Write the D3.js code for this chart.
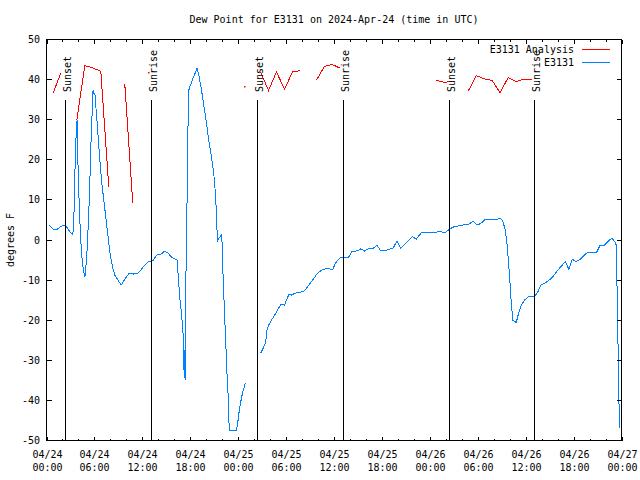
<!DOCTYPE html>
<html><head><meta charset="utf-8">
<script src="https://cdn.jsdelivr.net/npm/d3@7"></script>
<style>body{margin:0;background:#fff}</style>
</head><body>
<svg id="c" width="640" height="480"></svg>
<script>
const title = "Dew Point for E3131 on 2024-Apr-24 (time in UTC)";
const yLabel = "degrees F";
const yTicks = [-50,-40,-30,-20,-10,0,10,20,30,40,50];
const xMajorHours = [0,6,12,18,24,30,36,42,48,54,60,66,72];
const xTickDates = ["04/24","04/24","04/24","04/24","04/25","04/25","04/25","04/25","04/26","04/26","04/26","04/26","04/27"];
const xTickTimes = ["00:00","06:00","12:00","18:00","00:00","06:00","12:00","18:00","00:00","06:00","12:00","18:00","00:00"];
const xMinorHours = [2,4,8,10,14,16,20,22,26,28,32,34,38,40,44,46,50,52,56,58,62,64,68,70];
const sunHours = [2.33,13.05,26.35,37.13,50.38,61.03];
const sunNames = ["Sunset","Sunrise","Sunset","Sunrise","Sunset","Sunrise"];
const legendNames = ["E3131 Analysis","E3131"];

const blueHours = [0.29,0.83,1.38,1.66,2.2,2.5,2.92,3.29,3.42,3.58,3.7,3.83,3.95,4.13,4.29,4.46,4.63,4.79,4.88,5.08,5.26,5.42,5.58,5.76,5.83,5.96,6.05,6.21,6.38,6.58,6.88,7.17,7.42,7.71,7.96,8.26,8.55,8.96,9.34,9.8,10.34,10.84,11.39,11.89,12.3,12.8,13.34,13.77,14.31,14.81,15.22,15.64,16.06,16.35,16.47,16.68,16.9,17.1,17.18,17.27,17.35,17.43,17.47,17.6,17.72,17.85,18.06,18.35,18.65,18.85,19.1,19.4,19.72,20.03,20.31,20.65,20.94,21.15,21.28,21.4,21.56,21.73,21.9,22.03,22.1,22.23,22.4,22.6,22.73,22.82,22.94,23.78,23.98,24.19,24.53,24.9,25.8,26.82,27.2,27.45,27.61,27.82,28.16,28.57,28.99,29.32,29.82,30.04,30.36,30.66,31.08,31.49,32.12,32.54,33.17,33.58,33.92,34.49,35.04,35.58,35.87,36.17,36.58,36.92,37.83,38.25,38.92,39.34,39.84,40.34,40.88,41.38,41.84,42.43,42.97,43.38,43.88,44.34,44.84,45.26,45.81,46.31,46.93,48.6,49.22,49.85,50.35,50.89,51.51,52.14,52.77,53.39,53.89,54.36,54.86,56.02,56.52,56.86,57.15,57.45,57.7,57.9,58.07,58.2,58.4,58.82,59.11,59.45,59.86,60.28,61.11,61.53,61.95,62.36,62.78,63.4,64.03,64.58,64.96,65.41,65.83,66.33,66.96,67.58,68.21,68.91,69.34,69.87,70.5,70.84,71.14,71.35,71.42,71.55,71.67,71.75];
const blueValues = [3.75,2.7,2.7,3.2,3.7,3.3,2.1,1.25,5,18.3,25.8,30,18.3,6.7,0,-5,-7.5,-9.3,-8.3,-2.5,5,14,25,34,37.5,36.25,36.7,32.5,28.3,22.5,15,10,5.8,0.8,-3.3,-6.7,-8.75,-10,-11.25,-9.8,-8.3,-8.5,-8.3,-7.3,-6.25,-5.4,-5.2,-3.75,-3.6,-2.75,-3.3,-4.2,-4.75,-5,-8.3,-14.2,-18.3,-23.3,-32.5,-27.5,-35,-25.8,-7.5,10,28.3,37.9,38.75,40.4,41.8,42.9,40.8,37.5,33.3,29.2,25,20.8,16.7,11.7,6.7,-0.4,0.4,0.8,1.25,-1.7,-8.3,-15,-23.3,-33.3,-38.3,-45,-47.5,-47.5,-45,-41.7,-38.3,-35.6,null,-28.2,-26.7,-25.4,-22.5,-21.25,-20,-18.75,-17.3,-16.1,-16.25,-15,-13.6,-13.75,-13.3,-13.1,-12.9,-12.1,-10.4,-9.3,-8.3,-7.5,-7.1,-7.25,-7.25,-5.8,-4.8,-4.3,-4.3,-2.9,-2.7,-2.2,-2.75,-2.1,-2.1,-1.3,-2.7,-2.7,-2.25,-2.1,-0.25,-2.1,-1.1,-0.25,0.8,0.25,1.8,1.8,2.2,1.8,2.5,3.2,3.5,3.75,3.75,4.7,3.75,4.1,5,5,5.2,5.4,4.6,2.5,-1.7,-6.7,-11.7,-15.8,-20,-20.6,-18.3,-16.25,-15,-14.2,-14.2,-12.9,-11.1,-10.8,-10.25,-9.2,-7.5,-6.25,-5.4,-7.3,-4.8,-5.4,-4.6,-3.3,-3,-3,-1.25,-1.25,0,0.4,-0.4,-1.25,-9.2,-24.2,-39.2,-47];

const redHours = [0.8,1.8,2.8,3.8,4.8,5.8,6.8,7.8,8.8,9.8,10.8,11.8,12.8,13.8,23.8,24.8,25.8,26.8,27.8,28.8,29.8,30.8,31.8,32.8,33.8,34.8,35.8,36.8,37.8,47.8,48.8,49.8,50.8,51.8,52.8,53.8,54.8,55.8,56.8,57.8,58.8,59.8,60.8];
const redValues = [36.5,41.7,null,30,43.5,42.9,42.1,13.2,null,39,9.2,null,41.7,null,null,38.2,null,41.9,37.3,41.9,37.6,41.9,42.25,null,39.8,43.3,43.75,42.8,null,null,39.8,39.3,39.6,null,37.1,41,40.2,39.8,36.7,40.5,39.5,40.1,40.1];

const svg = d3.select("#c");
const font = "'DejaVu Sans Mono', monospace";
const x = d3.scaleLinear().domain([0,72]).range([46.5,621.5]);
const y = d3.scaleLinear().domain([-50,50]).range([440.5,39.5]);
const blue = "#0080ff", red = "#ff0000";

// data
const line = d3.line().defined(d => d[1] !== null).x(d => x(d[0])).y(d => y(d[1]));
const redPts = redHours.map((h,i)=>[h,redValues[i]]);
svg.append("path").datum(redPts)
  .attr("d", line).attr("fill","none").attr("stroke",red).attr("stroke-width",1)
  .attr("shape-rendering","crispEdges");
// isolated red samples drawn as single-pixel dots
svg.selectAll("rect.iso").data(redPts.filter((d,i)=>d[1]!==null &&
    (i===0 || redPts[i-1][1]===null) && (i===redPts.length-1 || redPts[i+1][1]===null)))
  .join("rect").attr("class","iso")
  .attr("x",d=>Math.floor(x(d[0]))).attr("y",d=>Math.floor(y(d[1])))
  .attr("width",1.5).attr("height",1.5).attr("fill",red);
svg.append("path").datum(blueHours.map((h,i)=>[h,blueValues[i]]))
  .attr("d", line).attr("fill","none").attr("stroke",blue).attr("stroke-width",1)
  .attr("shape-rendering","crispEdges");

// sun lines
sunHours.forEach((h,i)=>{
  const xx = Math.round(x(h)) + 0.5;
  svg.append("line").attr("x1",xx).attr("x2",xx).attr("y1",y(35)).attr("y2",y(-50))
    .attr("stroke","#000").attr("shape-rendering","crispEdges");
  svg.append("text").attr("transform",`translate(${xx+5.5},92) rotate(-90)`)
    .attr("font-family",font).attr("font-size",10).attr("text-anchor","start").text(sunNames[i]);
});

// frame
svg.append("rect").attr("x",46.5).attr("y",39.5).attr("width",575).attr("height",401)
  .attr("fill","none").attr("stroke","#000").attr("shape-rendering","crispEdges");

const tk = svg.append("g").attr("stroke","#000").attr("shape-rendering","crispEdges");
yTicks.forEach(v=>{
  const yy = y(v);
  tk.append("line").attr("x1",46.5).attr("x2",51.5).attr("y1",yy).attr("y2",yy);
  tk.append("line").attr("x1",616.5).attr("x2",621.5).attr("y1",yy).attr("y2",yy);
  svg.append("text").attr("x",40).attr("y",yy).attr("dy","0.35em").attr("text-anchor","end")
    .attr("font-family",font).attr("font-size",10).text(v);
});
xMajorHours.forEach((h,i)=>{
  const xx = Math.round(x(h)) + 0.5;
  tk.append("line").attr("x1",xx).attr("x2",xx).attr("y1",440.5).attr("y2",436.5);
  tk.append("line").attr("x1",xx).attr("x2",xx).attr("y1",39.5).attr("y2",43.5);
  svg.append("text").attr("x",xx).attr("y",458).attr("text-anchor","middle")
    .attr("font-family",font).attr("font-size",10).text(xTickDates[i]);
  svg.append("text").attr("x",xx).attr("y",471).attr("text-anchor","middle")
    .attr("font-family",font).attr("font-size",10).text(xTickTimes[i]);
});
xMinorHours.forEach(h=>{
  const xx = Math.round(x(h)) + 0.5;
  tk.append("line").attr("x1",xx).attr("x2",xx).attr("y1",440.5).attr("y2",438.5);
  tk.append("line").attr("x1",xx).attr("x2",xx).attr("y1",39.5).attr("y2",41.5);
});

// title & labels
svg.append("text").attr("x",334).attr("y",23).attr("text-anchor","middle")
  .attr("font-family",font).attr("font-size",10).text(title);
svg.append("text").attr("transform","translate(14,240) rotate(-90)").attr("text-anchor","middle")
  .attr("font-family",font).attr("font-size",10).text(yLabel);

// legend
[red, blue].forEach((c,i)=>{
  const yy = 49.5 + i*13;
  svg.append("text").attr("x",574).attr("y",yy).attr("dy","0.35em").attr("text-anchor","end")
    .attr("font-family",font).attr("font-size",10).text(legendNames[i]);
  svg.append("line").attr("x1",582).attr("x2",610).attr("y1",yy).attr("y2",yy)
    .attr("stroke",c).attr("shape-rendering","crispEdges");
});
</script>
</body></html>
